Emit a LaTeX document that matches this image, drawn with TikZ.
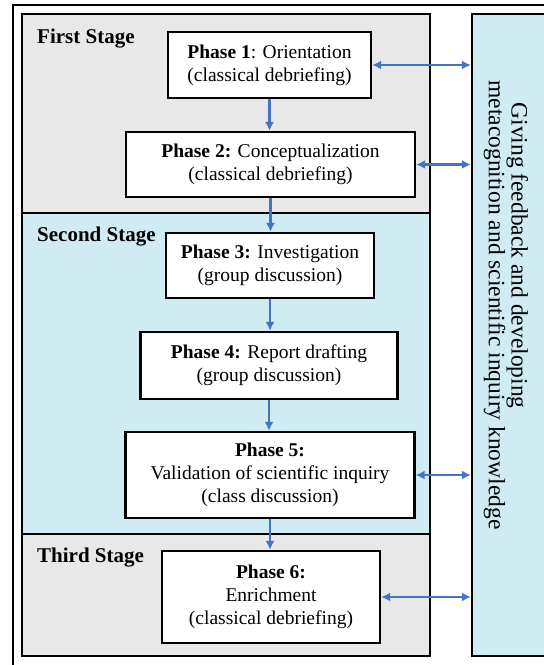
\documentclass[tikz,border=0pt]{standalone}
\usepackage{fontspec}
\setmainfont{Liberation Serif}
\usetikzlibrary{arrows.meta}

\definecolor{stagegray}{RGB}{232,232,232}
\definecolor{stageblue}{RGB}{208,236,243}
\definecolor{arrowblue}{RGB}{68,114,196}

\begin{document}
\begin{tikzpicture}[x=1pt, y=-1pt,
    phase/.style={draw=black, line width=2.4pt, fill=white, align=center, inner sep=2pt,
                  font=\fontsize{19.5}{23}\selectfont},
    stagelabel/.style={anchor=base west, inner sep=0pt, font=\fontsize{21}{25}\selectfont\bfseries},
    flow/.style={->, arrowblue, line width=2.2pt},
    link/.style={<->, arrowblue, line width=2.2pt},
    >={Latex[length=9pt, width=9pt]}]

    % Outer frame (cut by the page on the right and at the bottom)
    \clip (0,0) rectangle (544,665);
    \draw[line width=2.4pt] (13,5) rectangle (560,680);

    % Stages
    \filldraw[fill=stagegray, line width=2.2pt] (22,14) rectangle (430,213);
    \filldraw[fill=stageblue, line width=2.2pt] (22,213) rectangle (430,534);
    \filldraw[fill=stagegray, line width=2.2pt] (22,534) rectangle (430,656);

    \node[stagelabel] (s1) at (37,43) {First Stage};
    \node[stagelabel] (s2) at (37,241) {Second Stage};
    \node[stagelabel] (s3) at (37,562) {Third Stage};

    % Feedback panel on the right
    \node[draw, line width=2.2pt, fill=stageblue, minimum width=80pt, minimum height=642pt,
          inner sep=0pt] (feedback) at (512,335) {};
    \node[rotate=-90, align=left, inner sep=0pt, font=\fontsize{23.5}{19}\selectfont]
        (feedbacktext) at (506,305)
        {\hspace*{22pt}Giving feedback and developing\\metacognition and scientific inquiry knowledge};

    % Phases
    \node[phase, minimum width=203pt, minimum height=66pt] (p1) at (269.5,65)
        {\textbf{Phase 1}: Orientation\\(classical debriefing)};
    \node[phase, minimum width=289pt, minimum height=65pt] (p2) at (270.5,164.5)
        {\textbf{Phase 2:} Conceptualization\\(classical debriefing)};
    \node[phase, minimum width=208pt, minimum height=65pt] (p3) at (270,265.5)
        {\textbf{Phase 3:} Investigation\\(group discussion)};
    \node[phase, minimum width=257pt, minimum height=67pt] (p4) at (269,365.5)
        {\textbf{Phase 4:} Report drafting\\(group discussion)};
    \node[phase, minimum width=289pt, minimum height=86pt] (p5) at (270,475)
        {\textbf{Phase 5:}\\Validation of scientific inquiry\\(class discussion)};
    \node[phase, minimum width=218pt, minimum height=92pt] (p6) at (271,597)
        {\textbf{Phase 6:}\\Enrichment\\(classical debriefing)};

    % Flow between phases
    \draw[flow] (p1.south) -- (p1.south |- p2.north);
    \draw[flow] (p2.south) -- (p2.south |- p3.north);
    \draw[flow] (p3.south) -- (p3.south |- p4.north);
    \draw[flow] (p4.south) -- (p4.south |- p5.north);
    \draw[flow] (p5.south) -- (p5.south |- p6.north);

    % Links to the feedback panel
    \draw[link] (p1.east) -- (p1.east -| feedback.west);
    \draw[link] (p2.east) -- (p2.east -| feedback.west);
    \draw[link] (p5.east) -- (p5.east -| feedback.west);
    \draw[link] (p6.east) -- (p6.east -| feedback.west);

\end{tikzpicture}
\end{document}
